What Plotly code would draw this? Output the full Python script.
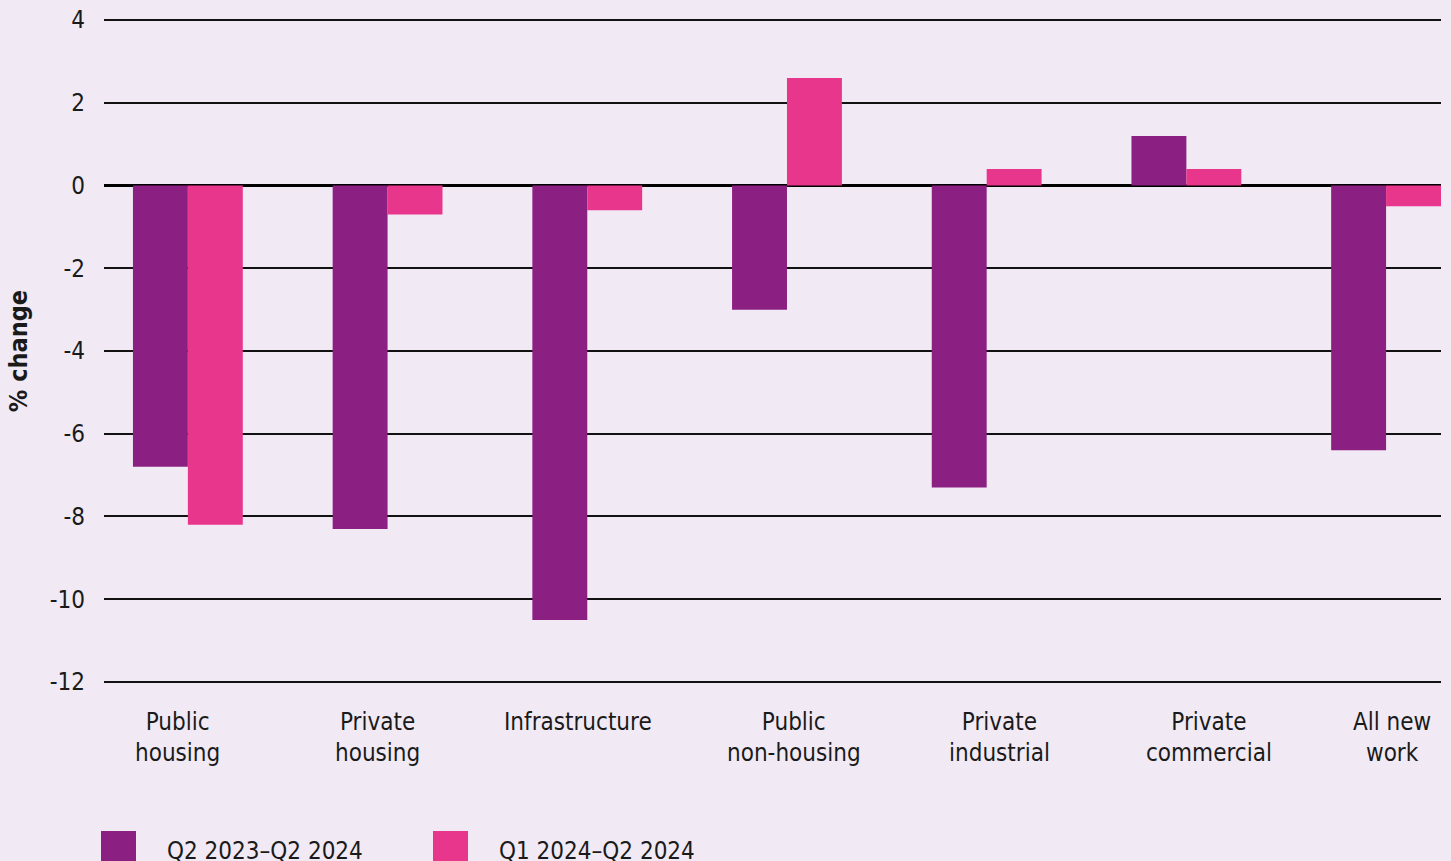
import plotly.graph_objects as go

categories = ["Public<br>housing", "Private<br>housing", "Infrastructure",
              "Public<br>non-housing", "Private<br>industrial",
              "Private<br>commercial", "All new<br>work"]
series_names = ["Q2 2023–Q2 2024", "Q1 2024–Q2 2024"]
annual_change = [-6.8, -8.3, -10.5, -3.0, -7.3, 1.2, -6.4]
quarterly_change = [-8.2, -0.7, -0.6, 2.6, 0.4, 0.4, -0.5]
y_ticks = [4, 2, 0, -2, -4, -6, -8, -10, -12]

# horizontal nudges (px) of category labels relative to group centre, as in the source
label_xshift = [-10, -10, -9, 7, 13, 23, 6]

PURPLE = "#8b1f82"
PINK = "#e8368c"
BG = "#f1eaf5"
FONT = "DejaVu Sans Condensed, Liberation Sans Narrow, sans-serif"
TXT = "#1a1a1a"

xs = list(range(len(categories)))
fig = go.Figure()
fig.add_trace(go.Bar(x=xs, y=annual_change,
                     name=series_names[0], marker_color=PURPLE,
                     marker_line_width=0, showlegend=False))
fig.add_trace(go.Bar(x=xs, y=quarterly_change,
                     name=series_names[1], marker_color=PINK,
                     marker_line_width=0, showlegend=False))

W, H = 1451, 861
ml, mr, mt, mb = 104, 10, 18, 177
pw, ph = W - ml - mr, H - mt - mb

def px_to_paper_x(px):
    return (px - ml) / pw

def px_to_paper_y(py):
    return (H - mb - py) / ph

# category labels
for i, (lab, dx) in enumerate(zip(categories, label_xshift)):
    fig.add_annotation(xref="x", yref="paper", x=i, y=0, yanchor="top",
                       xanchor="center", align="center", yshift=-22, xshift=dx,
                       text=lab, showarrow=False,
                       font=dict(size=24, color=TXT, family=FONT))

# custom legend (large square swatches)
legend_items = [(series_names[0], PURPLE, 101), (series_names[1], PINK, 433)]
for name, col, x0 in legend_items:
    fig.add_shape(type="rect", xref="paper", yref="paper",
                  x0=px_to_paper_x(x0), x1=px_to_paper_x(x0 + 35),
                  y0=px_to_paper_y(867), y1=px_to_paper_y(831),
                  fillcolor=col, line_width=0)
    fig.add_annotation(xref="paper", yref="paper",
                       x=px_to_paper_x(x0 + 64), y=px_to_paper_y(851),
                       text=name, showarrow=False, xanchor="left", yanchor="middle",
                       font=dict(size=24, color=TXT, family=FONT))

fig.update_layout(
    width=W, height=H,
    margin=dict(l=ml, r=mr, t=mt, b=mb, autoexpand=False),
    paper_bgcolor=BG, plot_bgcolor=BG,
    barmode="group", bargap=0.45, bargroupgap=0,
    font=dict(family=FONT, size=24, color=TXT),
    xaxis=dict(tickmode="array", tickvals=xs, ticktext=[""] * len(xs),
               range=[-0.42, 6.275], automargin=False,
               showgrid=False, zeroline=False, showline=False, ticks=""),
    yaxis=dict(range=[-12.05, 4.05], tickvals=y_ticks, ticktext=[str(v) for v in y_ticks],
               automargin=False,
               showgrid=True, gridcolor="#111111", gridwidth=2,
               zeroline=True, zerolinecolor="#000000", zerolinewidth=3,
               showline=False, ticks="", tickfont=dict(size=24),
               ticklabelstandoff=18,
               title=dict(text="<b>% change</b>", font=dict(size=25), standoff=14)),
)

fig.write_html("out.html", config={"displayModeBar": False},
               post_script="document.body.style.margin='0';document.body.style.overflow='hidden';")
